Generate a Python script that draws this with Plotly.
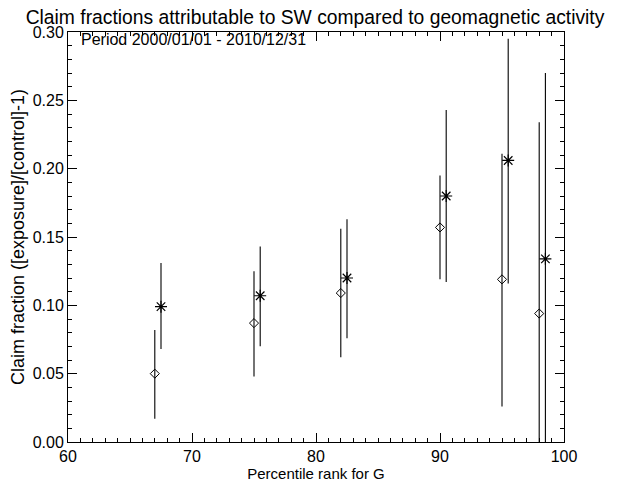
import plotly.graph_objects as go

# Series 1 (diamonds)
x1 = [67.0, 75.0, 82.0, 90.0, 95.0, 98.0]
y1 = [0.050, 0.087, 0.109, 0.157, 0.119, 0.094]
y1_hi = [0.082, 0.125, 0.156, 0.195, 0.211, 0.234]
y1_lo = [0.017, 0.048, 0.062, 0.119, 0.026, -0.046]

# Series 2 (asterisks)
x2 = [67.5, 75.5, 82.5, 90.5, 95.5, 98.5]
y2 = [0.099, 0.107, 0.120, 0.180, 0.206, 0.134]
y2_hi = [0.131, 0.143, 0.163, 0.243, 0.295, 0.270]
y2_lo = [0.068, 0.070, 0.076, 0.117, 0.116, -0.002]

X_RANGE = [60, 100]
Y_RANGE = [0, 0.30]

FONT = "Liberation Sans, Arial, Helvetica, sans-serif"

fig = go.Figure()

def add_series(xs, ys, hi, lo, symbol, size, lw):
    fig.add_trace(go.Scatter(
        x=xs, y=ys, mode="markers",
        marker=dict(symbol=symbol, size=size, color="black",
                    line=dict(color="black", width=lw)),
        error_y=dict(type="data", symmetric=False,
                     array=[h - v for h, v in zip(hi, ys)],
                     arrayminus=[v - l for v, l in zip(ys, lo)],
                     color="black", thickness=1.1, width=0),
        showlegend=False, cliponaxis=True,
    ))

add_series(x1, y1, y1_hi, y1_lo, "diamond-open", 7, 1)
add_series(x2, y2, y2_hi, y2_lo, "asterisk-open", 10, 1.2)

# invisible trace to anchor the mirrored (top/right) tick axes
fig.add_trace(go.Scatter(x=x1, y=y1, xaxis="x2", yaxis="y2", mode="markers",
                         marker=dict(opacity=0), hoverinfo="skip", showlegend=False))

fig.update_layout(
    width=618, height=481,
    paper_bgcolor="white", plot_bgcolor="white",
    margin=dict(l=60, r=62, t=24, b=47),
    font=dict(family=FONT, size=15, color="black"),
    title=dict(text="Claim fractions attributable to SW compared to geomagnetic activity",
               x=0.4968, xanchor="center", y=0.994, yanchor="top",
               font=dict(size=19.3, family=FONT, color="black")),
    annotations=[dict(text="Period 2000/01/01 - 2010/12/31", xref="paper", yref="paper",
                      x=0.022, y=1.008, xanchor="left", yanchor="top", showarrow=False,
                      font=dict(size=16, family=FONT, color="black"))],
)

common = dict(ticks="inside", ticklen=9, tickwidth=1, tickcolor="black",
              showline=True, linecolor="black", linewidth=1,
              showgrid=False, zeroline=False, automargin=False)

fig.update_layout(
    xaxis=dict(range=X_RANGE, tick0=60, dtick=10,
               minor=dict(dtick=1, ticks="inside", ticklen=4, tickcolor="black", tickwidth=1),
               title=dict(text="Percentile rank for G", standoff=2, font=dict(size=15)),
               tickfont=dict(size=16), **common),
    yaxis=dict(range=Y_RANGE, tick0=0, dtick=0.05, tickformat=".2f",
               minor=dict(dtick=0.01, ticks="inside", ticklen=4, tickcolor="black", tickwidth=1),
               title=dict(text="Claim fraction ([exposure]/[control]-1)", standoff=9, font=dict(size=18)),
               tickfont=dict(size=16), **common),
    xaxis2=dict(range=X_RANGE, tick0=60, dtick=10, overlaying="x", side="top",
                anchor="y2", showticklabels=False,
                minor=dict(dtick=1, ticks="inside", ticklen=4, tickcolor="black", tickwidth=1),
                **common),
    yaxis2=dict(range=Y_RANGE, tick0=0, dtick=0.05, overlaying="y", side="right",
                anchor="x2", showticklabels=False,
                minor=dict(dtick=0.01, ticks="inside", ticklen=4, tickcolor="black", tickwidth=1),
                **common),
)

fig.write_html("out.html")
